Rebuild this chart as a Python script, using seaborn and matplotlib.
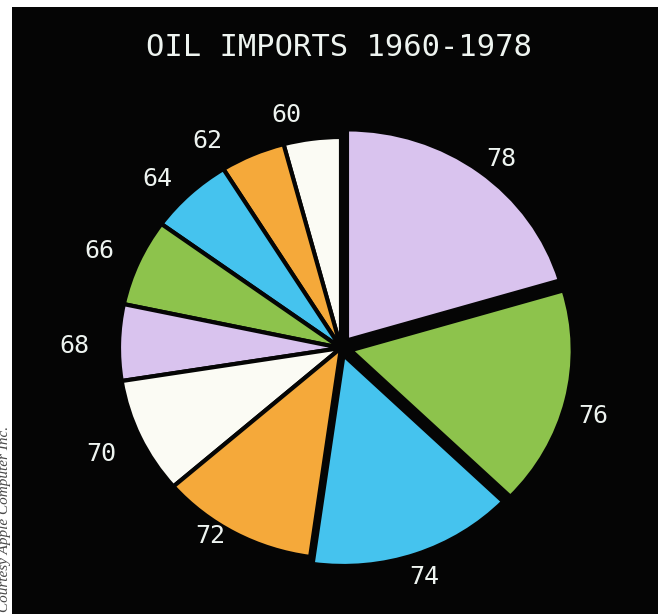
import matplotlib
matplotlib.use("Agg")
import matplotlib.pyplot as plt
import numpy as np
import seaborn as sns

# ---- data ----
years = ["60", "62", "64", "66", "68", "70", "72", "74", "76", "78"]
imports = [15, 17, 22, 24, 21, 32, 41, 54, 60.5, 73.5]
slice_colors = ["#fbfbf4", "#f5a93a", "#45c3ee", "#8dc34c", "#d9c3ee",
                "#fbfbf4", "#f5a93a", "#45c3ee", "#8dc34c", "#d9c3ee"]
title = "OIL IMPORTS 1960-1978"
credit = "Courtesy Apple Computer Inc."

# ---- layout / style ----
explode = [0, 0, 0, 0, 0, 0, 0, 0.035, 0.045, 0.045]
label_dist = [1.13, 1.15, 1.15, 1.18, 1.20, 1.19, 1.07, 1.15, 1.18, 1.15]
label_nudge = [5, 8, 3, 1, 1, 0, -5, 0, -2, -2]   # degrees

sns.set_theme(style="dark", rc={"axes.facecolor": "#050505",
                                "figure.facecolor": "white"})
palette = sns.color_palette(slice_colors)
plt.rcParams["font.family"] = ["DejaVu Sans Mono", "DejaVu Sans"]

W, H, DPI = 658, 614, 100
fig = plt.figure(figsize=(W / DPI, H / DPI), dpi=DPI)

# black screen area
x0, ytop = 12, 7
ax = fig.add_axes([x0 / W, 0, (W - x0) / W, (H - ytop) / H])

wedges, texts = ax.pie(
    imports, labels=years, colors=palette, explode=explode,
    startangle=90, counterclock=True, labeldistance=1.12,
    wedgeprops=dict(edgecolor="#050505", linewidth=3),
    textprops=dict(color="#eef4f0", fontsize=18, family="DejaVu Sans Mono"),
)

# place each label along its wedge's bisector
for w, t, d, n in zip(wedges, texts, label_dist, label_nudge):
    ang = np.deg2rad((w.theta1 + w.theta2) / 2 + n)
    t.set_position((d * np.cos(ang), d * np.sin(ang)))
    t.set_ha("center")
    t.set_va("center")

ax.set_frame_on(True)
ax.set_facecolor("#050505")
ax.patch.set_visible(True)

# scale: 1 unit = Rx / Ry pixels (screen pixels slightly wide), centre (cx, cy)
Rx, Ry = 222.0, 211.0
cx, cy = 341 - x0, H - 348
aw, ah = W - x0, H - ytop
ax.set_xlim(-cx / Rx, (aw - cx) / Rx)
ax.set_ylim(-cy / Ry, (ah - cy) / Ry)
ax.set_aspect("auto")
ax.set_xticks([]); ax.set_yticks([])
for s in ax.spines.values():
    s.set_visible(False)

fig.text(339 / W, 1 - 47 / H, title, ha="center", va="center",
         color="#eef4f0", fontsize=22, family="DejaVu Sans Mono")

fig.text(5 / W, 0.004, credit, rotation=90, ha="center", va="bottom",
         color="#4a4a4a", fontsize=11, style="italic",
         family="Liberation Serif")

fig.savefig("out.png", dpi=DPI, facecolor="white")
